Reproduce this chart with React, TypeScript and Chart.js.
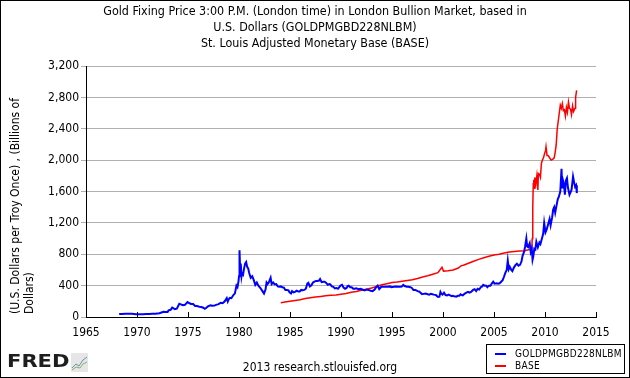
import React, { useEffect, useRef } from "react";
import { Chart, registerables } from "chart.js";

Chart.register(...registerables);

const goldYears = [
  1968.25, 1968.5, 1968.9, 1969.2, 1969.5, 1969.9, 1970.2, 1970.6, 1970.9, 1971.2, 1971.5, 1971.8,
  1972.0, 1972.2, 1972.4, 1972.6, 1972.8, 1973.0, 1973.1, 1973.3, 1973.45, 1973.55, 1973.7, 1973.9,
  1974.0, 1974.15, 1974.3, 1974.5, 1974.7, 1974.95, 1975.1, 1975.3, 1975.5, 1975.7, 1975.9, 1976.1,
  1976.3, 1976.5, 1976.65, 1976.8, 1976.95, 1977.2, 1977.4, 1977.6, 1977.8, 1977.95, 1978.2, 1978.4,
  1978.6, 1978.8, 1978.9, 1979.0, 1979.1, 1979.25, 1979.45, 1979.6, 1979.75, 1979.85, 1979.95, 1980.0,
  1980.05, 1980.1, 1980.17, 1980.25, 1980.3, 1980.4, 1980.5, 1980.6, 1980.7, 1980.8, 1980.9, 1981.0,
  1981.15, 1981.3, 1981.45, 1981.6, 1981.75, 1981.9, 1982.1, 1982.3, 1982.45, 1982.6, 1982.7, 1982.8,
  1982.95, 1983.1, 1983.2, 1983.35, 1983.5, 1983.65, 1983.8, 1983.95, 1984.1, 1984.25, 1984.4, 1984.55,
  1984.7, 1984.85, 1984.95, 1985.1, 1985.2, 1985.35, 1985.5, 1985.65, 1985.8, 1985.95, 1986.1, 1986.25,
  1986.4, 1986.55, 1986.7, 1986.8, 1986.95, 1987.1, 1987.25, 1987.4, 1987.55, 1987.7, 1987.85, 1987.95,
  1988.1, 1988.25, 1988.4, 1988.55, 1988.7, 1988.85, 1988.95, 1989.1, 1989.25, 1989.4, 1989.55, 1989.7,
  1989.85, 1989.95, 1990.1, 1990.25, 1990.4, 1990.55, 1990.65, 1990.75, 1990.9, 1991.05, 1991.2, 1991.35,
  1991.5, 1991.7, 1991.9, 1992.1, 1992.3, 1992.5, 1992.7, 1992.9, 1993.1, 1993.3, 1993.45, 1993.6,
  1993.75, 1993.95, 1994.2, 1994.4, 1994.6, 1994.8, 1994.95, 1995.2, 1995.4, 1995.6, 1995.8, 1995.95,
  1996.1, 1996.25, 1996.45, 1996.6, 1996.8, 1996.95, 1997.1, 1997.3, 1997.5, 1997.65, 1997.8, 1997.95,
  1998.1, 1998.3, 1998.5, 1998.65, 1998.8, 1998.95, 1999.1, 1999.3, 1999.5, 1999.65, 1999.75, 1999.85,
  1999.95, 2000.1, 2000.25, 2000.4, 2000.55, 2000.7, 2000.85, 2000.95, 2001.1, 2001.3, 2001.45, 2001.6,
  2001.72, 2001.85, 2001.95, 2002.1, 2002.3, 2002.45, 2002.6, 2002.75, 2002.95, 2003.1, 2003.25, 2003.4,
  2003.55, 2003.7, 2003.85, 2003.95, 2004.1, 2004.25, 2004.35, 2004.5, 2004.65, 2004.8, 2004.92, 2005.05,
  2005.25, 2005.4, 2005.55, 2005.7, 2005.85, 2005.97, 2006.1, 2006.25, 2006.35, 2006.45, 2006.55, 2006.7,
  2006.8, 2006.95, 2007.1, 2007.25, 2007.4, 2007.55, 2007.7, 2007.8, 2007.95, 2008.05, 2008.17, 2008.25,
  2008.35, 2008.5, 2008.6, 2008.7, 2008.78, 2008.85, 2008.95, 2009.05, 2009.15, 2009.3, 2009.45, 2009.55,
  2009.7, 2009.82, 2009.92, 2010.05, 2010.15, 2010.3, 2010.45, 2010.55, 2010.7, 2010.8, 2010.9, 2011.0,
  2011.1, 2011.25, 2011.35, 2011.5, 2011.62, 2011.68, 2011.75, 2011.85, 2011.95, 2012.05, 2012.15, 2012.25,
  2012.4, 2012.5, 2012.6, 2012.75, 2012.85, 2012.95, 2013.05, 2013.12,
];

const goldPrices = [
  38, 39, 41, 43, 41, 35, 35, 36, 37, 38, 40, 42,
  46, 48, 58, 67, 64, 65, 85, 92, 120, 114, 100, 106,
  130, 170, 162, 150, 155, 190, 178, 167, 165, 140, 139, 131,
  128, 118, 104, 117, 135, 148, 144, 145, 158, 161, 180, 175,
  200, 240, 196, 227, 245, 240, 280, 301, 400, 380, 455, 520,
  850, 650, 680, 520, 560, 540, 620, 680, 700, 640, 620, 560,
  500, 520, 470, 410, 440, 400, 370, 330, 300, 350, 440, 420,
  450, 500, 420, 440, 415, 420, 390, 385, 390, 380, 375, 345,
  345, 340, 315, 300, 330, 315, 320, 335, 325, 325, 345, 340,
  345, 360, 425, 435, 390, 405, 440, 450, 460, 460, 465, 485,
  445, 450, 450, 435, 410, 420, 415, 390, 385, 365, 370, 360,
  385, 400, 410, 375, 360, 370, 395, 400, 380, 380, 360, 360,
  365, 355, 360, 350, 340, 350, 345, 335, 330, 350, 380, 400,
  355, 385, 385, 385, 385, 390, 380, 385, 390, 385, 385, 388,
  410, 395, 385, 385, 380, 370, 345, 345, 330, 325, 310, 290,
  295, 300, 290, 285, 295, 290, 285, 280, 255, 260, 320, 295,
  285, 310, 280, 275, 285, 275, 265, 270, 265, 260, 270, 270,
  290, 280, 275, 295, 310, 320, 310, 320, 345, 355, 330, 360,
  350, 380, 390, 410, 400, 400, 380, 400, 400, 430, 450, 425,
  430, 425, 430, 450, 470, 510, 560, 600, 720, 610, 640, 600,
  585, 630, 660, 680, 655, 665, 710, 780, 830, 900, 1000, 900,
  890, 940, 830, 870, 730, 770, 870, 860, 960, 890, 950, 930,
  1000, 1060, 1200, 1080, 1110, 1180, 1250, 1170, 1270, 1370, 1400, 1330,
  1400, 1500, 1530, 1600, 1890, 1650, 1750, 1700, 1560, 1740, 1770, 1650,
  1560, 1590, 1620, 1790, 1720, 1660, 1680, 1580,
];

const baseYears = [
  1984.1, 1984.5, 1985.0, 1985.5, 1986.0, 1986.5, 1987.0, 1987.5, 1988.0, 1988.5, 1989.0, 1989.5,
  1990.0, 1990.5, 1991.0, 1991.5, 1992.0, 1992.5, 1993.0, 1993.5, 1994.0, 1994.5, 1995.0, 1995.5,
  1996.0, 1996.5, 1997.0, 1997.5, 1998.0, 1998.5, 1999.0, 1999.5, 1999.9, 2000.05, 2000.5, 2001.0,
  2001.5, 2001.8, 2002.0, 2002.5, 2003.0, 2003.5, 2004.0, 2004.5, 2005.0, 2005.5, 2006.0, 2006.5,
  2007.0, 2007.5, 2008.0, 2008.5, 2008.7, 2008.75, 2008.8, 2008.85, 2008.9, 2008.95, 2009.0, 2009.1,
  2009.2, 2009.3, 2009.35, 2009.45, 2009.55, 2009.65, 2009.75, 2009.85, 2009.95, 2010.05, 2010.1, 2010.2,
  2010.3, 2010.45, 2010.6, 2010.75, 2010.9, 2011.0, 2011.1, 2011.2, 2011.35, 2011.5, 2011.6, 2011.7,
  2011.8, 2011.9, 2012.0, 2012.1, 2012.2, 2012.3, 2012.4, 2012.5, 2012.6, 2012.7, 2012.8, 2012.9,
  2012.95, 2013.0, 2013.1,
];

const baseValues = [
  183, 190, 200, 210, 220, 235, 245, 255, 262, 270, 277, 280,
  290, 300, 315, 325, 340, 355, 370, 390, 410, 425, 440, 445,
  455, 465, 475, 490, 510, 525, 545, 565, 635, 585, 590, 600,
  625, 655, 660, 685, 710, 735, 755, 775, 790, 800, 815, 830,
  835, 840, 845, 860, 870, 1000, 1400, 1700, 1750, 1640, 1780, 1700,
  1800, 1620, 1830, 1820, 1780, 1960, 2000, 2030, 2080, 2120, 2170, 2060,
  2060, 2030, 2000, 2010, 2030, 2100, 2200, 2400, 2550, 2700, 2660, 2720,
  2630, 2640, 2560, 2670, 2610, 2740, 2660, 2650, 2580, 2690, 2620, 2650,
  2660, 2800, 2890,
];

const seriesNames = ["GOLDPMGBD228NLBM", "BASE"];
const titleLines = [
  "Gold Fixing Price 3:00 P.M. (London time) in London Bullion Market, based in",
  "U.S. Dollars (GOLDPMGBD228NLBM)",
  "St. Louis Adjusted Monetary Base (BASE)",
];
const yTitleLines = ["(U.S. Dollars per Troy Once) , (Billions of", "Dollars)"];
const footerText = "2013 research.stlouisfed.org";

const FONT = "'DejaVu Sans Condensed', 'DejaVu Sans', sans-serif";

const innerTicks = {
  id: "innerTicks",
  afterDatasetsDraw(chart: any) {
    const xs = chart.scales.x;
    const ctx = chart.ctx;
    const bottom = chart.chartArea.bottom;
    ctx.save();
    ctx.strokeStyle = "#000";
    ctx.lineWidth = 1;
    xs.ticks.forEach((t: any) => {
      const px = Math.round(xs.getPixelForValue(t.value)) + 0.5;
      ctx.beginPath();
      ctx.moveTo(px, bottom);
      ctx.lineTo(px, bottom - 5);
      ctx.stroke();
    });
    ctx.restore();
  },
};

export default function App() {
  const ref = useRef<HTMLCanvasElement | null>(null);

  useEffect(() => {
    if (!ref.current) return;
    const chart = new Chart(ref.current, {
      type: "line",
      data: {
        datasets: [
          {
            label: seriesNames[0],
            data: goldYears.map((x, i) => ({ x, y: goldPrices[i] })),
            borderColor: "#0000ff",
            borderWidth: 2,
            pointRadius: 0,
            tension: 0,
          },
          {
            label: seriesNames[1],
            data: baseYears.map((x, i) => ({ x, y: baseValues[i] })),
            borderColor: "#ff0000",
            borderWidth: 1.5,
            pointRadius: 0,
            tension: 0,
          },
        ],
      },
      options: {
        animation: false,
        responsive: false,
        devicePixelRatio: 1,
        layout: { padding: { top: 66, right: 34, left: 0, bottom: 0 } },
        plugins: { legend: { display: false }, tooltip: { enabled: false }, title: { display: false } },
        scales: {
          x: {
            type: "linear",
            min: 1965,
            max: 2015,
            afterFit: (s: any) => {
              s.height = 61;
            },
            ticks: {
              stepSize: 5,
              color: "#000",
              padding: 9,
              font: { family: FONT, size: 12 },
              callback: (v: any) => String(v),
              maxRotation: 0,
            },
            grid: { display: true, drawOnChartArea: false, drawTicks: false },
            border: { color: "#000", width: 1 },
          },
          y: {
            min: 0,
            max: 3200,
            afterFit: (s: any) => {
              s.width = 86;
            },
            ticks: {
              stepSize: 400,
              color: "#000",
              padding: 2,
              font: { family: FONT, size: 12 },
              callback: (v: any) => Number(v).toLocaleString("en-US"),
            },
            grid: { color: "#b0b0b0", lineWidth: 1, tickLength: 5 },
            border: { color: "#000", width: 1 },
          },
        },
      },
      plugins: [innerTicks],
    });
    return () => chart.destroy();
  }, []);

  const txt: React.CSSProperties = { position: "absolute", fontFamily: FONT, color: "#000", whiteSpace: "nowrap" };

  return (
    <div style={{ position: "fixed", left: 0, top: 0, width: 630, height: 378, background: "#fff", overflow: "hidden" }}>
      <canvas ref={ref} width={630} height={378} style={{ position: "absolute", left: 0, top: 0 }} />
      {titleLines.map((t, i) => (
        <div key={i} style={{ ...txt, left: 0, width: 630, textAlign: "center", top: 3 + i * 16, fontSize: 12.4, lineHeight: "16px" }}>
          {t}
        </div>
      ))}
      <div
        style={{
          ...txt,
          left: 8,
          top: 314,
          transformOrigin: "0 0",
          transform: "rotate(-90deg)",
          fontSize: 12,
          lineHeight: "14px",
        }}
      >
        {yTitleLines.map((t, i) => (
          <div key={i}>{t}</div>
        ))}
      </div>
      <div style={{ ...txt, left: 0, width: 640, textAlign: "center", top: 359, fontSize: 12, lineHeight: "16px" }}>{footerText}</div>
      <div
        style={{
          position: "absolute",
          left: 486,
          top: 344,
          width: 139,
          height: 30,
          border: "1px solid #000",
          boxSizing: "border-box",
          background: "#fff",
        }}
      >
        {seriesNames.map((n, i) => (
          <div key={n} style={{ position: "absolute", left: 0, top: 3 + i * 12, height: 12, width: 137 }}>
            <div style={{ position: "absolute", left: 8, top: 5, width: 11, height: 2, background: i === 0 ? "#0000ff" : "#ff0000" }} />
            <div style={{ ...txt, left: 28, top: 0, fontSize: 10, lineHeight: "12px", letterSpacing: "0.3px" }}>{n}</div>
          </div>
        ))}
      </div>
      <div
        style={{
          ...txt,
          left: 7,
          top: 349,
          fontFamily: "'DejaVu Sans', sans-serif",
          fontWeight: 900,
          fontSize: 18,
          lineHeight: "24px",
          color: "#1e1e1e",
          transformOrigin: "0 50%",
          transform: "scale(1.17,1)",
        }}
      >
        FRED
      </div>
      <svg style={{ position: "absolute", left: 71, top: 353 }} width={17} height={19} viewBox="0 0 17 19">
        <rect x={0} y={0} width={17} height={19} fill="#e6e6e6" />
        <polyline points="1,15 5,11 8,13 12,7 16,4" fill="none" stroke="#6a8fc0" strokeWidth={1} />
        <polyline points="1,17 5,14 9,15 12,11 16,9" fill="none" stroke="#8cb060" strokeWidth={1} />
      </svg>
      <div style={{ position: "absolute", left: 0, top: 0, width: 630, height: 378, border: "1px solid #000", boxSizing: "border-box", pointerEvents: "none" }} />
    </div>
  );
}
